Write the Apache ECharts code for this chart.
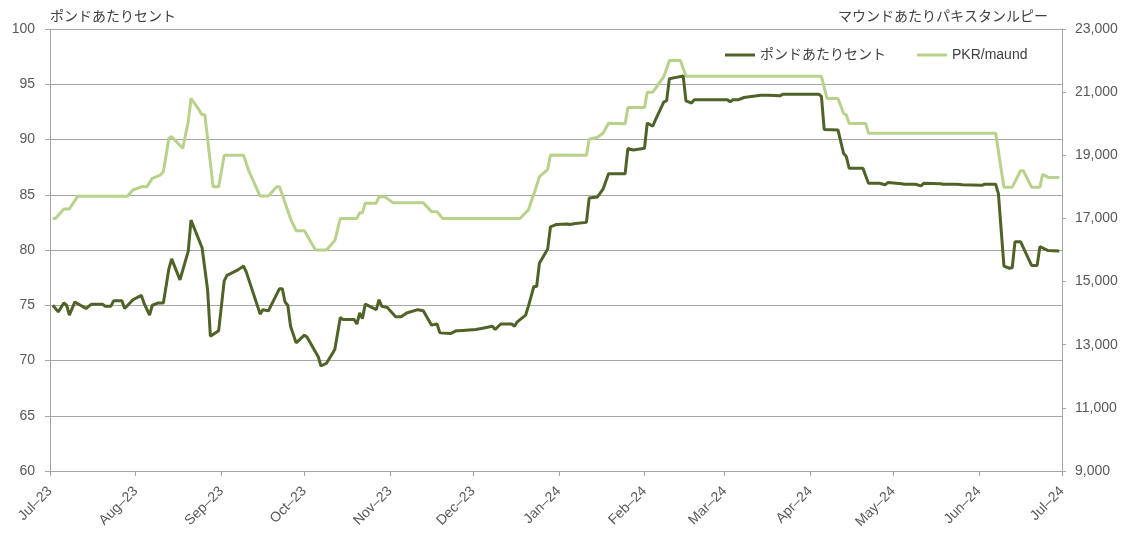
<!DOCTYPE html>
<html><head><meta charset="utf-8">
<script src="https://cdn.jsdelivr.net/npm/echarts@6/dist/echarts.min.js"></script>
<style>html,body{margin:0;padding:0;background:#fff}#c{width:1130px;height:533px}</style>
</head><body><div id="c"></div><script>
const seriesNames = ['ポンドあたりセント', 'PKR/maund'];
const axisNames = ['ポンドあたりセント', 'マウンドあたりパキスタンルピー'];

const centDates = ['2023-07-02','2023-07-04','2023-07-06','2023-07-07','2023-07-08','2023-07-10','2023-07-12','2023-07-14','2023-07-16','2023-07-20','2023-07-21','2023-07-23','2023-07-24','2023-07-27','2023-07-28','2023-07-31',
'2023-08-03','2023-08-04','2023-08-06','2023-08-07','2023-08-09','2023-08-11','2023-08-13','2023-08-14','2023-08-17','2023-08-20','2023-08-21','2023-08-25','2023-08-27','2023-08-28','2023-08-31',
'2023-09-02','2023-09-03','2023-09-05','2023-09-07','2023-09-09','2023-09-10','2023-09-15','2023-09-16','2023-09-18','2023-09-22','2023-09-23','2023-09-24','2023-09-25','2023-09-26','2023-09-28',
'2023-10-01','2023-10-02','2023-10-06','2023-10-07','2023-10-09','2023-10-12','2023-10-14','2023-10-15','2023-10-19','2023-10-20','2023-10-21','2023-10-22','2023-10-23','2023-10-27','2023-10-28','2023-10-29','2023-10-31',
'2023-11-03','2023-11-05','2023-11-07','2023-11-11','2023-11-13','2023-11-16','2023-11-18','2023-11-19','2023-11-23','2023-11-25','2023-11-26',
'2023-12-02','2023-12-04','2023-12-08','2023-12-09','2023-12-11','2023-12-15','2023-12-16','2023-12-17','2023-12-20','2023-12-21','2023-12-23','2023-12-24','2023-12-25','2023-12-28','2023-12-29','2023-12-31',
'2024-01-04','2024-01-05','2024-01-07','2024-01-11','2024-01-12','2024-01-15','2024-01-17','2024-01-19','2024-01-25','2024-01-26','2024-01-28',
'2024-02-01','2024-02-02','2024-02-04','2024-02-05','2024-02-08','2024-02-09','2024-02-10','2024-02-12','2024-02-15','2024-02-16','2024-02-18','2024-02-19',
'2024-03-02','2024-03-03','2024-03-04','2024-03-06','2024-03-08','2024-03-14','2024-03-17','2024-03-21','2024-03-22',
'2024-04-04','2024-04-05','2024-04-06','2024-04-11','2024-04-13','2024-04-14','2024-04-15','2024-04-20','2024-04-22','2024-04-26','2024-04-28','2024-04-29',
'2024-05-04','2024-05-05','2024-05-09','2024-05-11','2024-05-12','2024-05-18','2024-05-19','2024-05-24','2024-05-26',
'2024-06-02','2024-06-03','2024-06-07','2024-06-08','2024-06-10','2024-06-12','2024-06-13','2024-06-14','2024-06-16','2024-06-20','2024-06-22','2024-06-23','2024-06-26','2024-06-30'];
const centValues = [75.0,74.4,75.2,75.0,74.1,75.3,75.0,74.7,75.1,75.1,74.9,74.9,75.4,75.4,74.7,75.5,
75.9,75.2,74.1,75.0,75.2,75.2,78.3,79.2,77.3,79.9,82.7,80.2,76.4,72.2,72.7,
77.2,77.7,77.95,78.2,78.55,78.0,74.2,74.6,74.5,76.5,76.5,75.3,75.0,73.1,71.6,
72.3,72.1,70.35,69.5,69.75,71.0,73.9,73.7,73.7,73.3,74.3,73.8,75.1,74.6,75.5,74.9,74.8,
73.95,73.95,74.3,74.6,74.5,73.2,73.3,72.5,72.45,72.7,72.7,
72.8,72.9,73.1,72.8,73.3,73.3,73.1,73.5,74.1,74.9,76.7,76.7,78.8,80.1,82.1,82.3,
82.35,82.3,82.4,82.5,84.7,84.8,85.5,86.9,86.9,89.2,89.05,
89.2,91.5,91.2,91.8,93.4,93.5,95.5,95.6,95.75,93.5,93.3,93.6,
93.6,93.4,93.6,93.6,93.8,94.0,94.0,93.95,94.1,
94.1,93.9,90.9,90.85,88.75,88.45,87.4,87.4,86.04,86.04,85.9,86.1,
86.0,85.95,85.95,85.8,86.04,86.0,85.95,85.95,85.9,
85.85,85.95,85.95,85.1,78.55,78.35,78.4,80.75,80.75,78.6,78.6,80.3,79.95,79.9];

const pkrDates = ['2023-07-02','2023-07-03','2023-07-06','2023-07-08','2023-07-11','2023-07-29','2023-07-31',
'2023-08-03','2023-08-05','2023-08-07','2023-08-10','2023-08-11','2023-08-13','2023-08-14','2023-08-18','2023-08-20','2023-08-21','2023-08-24','2023-08-25','2023-08-26','2023-08-29','2023-08-31',
'2023-09-02','2023-09-09','2023-09-11','2023-09-15','2023-09-18','2023-09-21','2023-09-22','2023-09-24','2023-09-26','2023-09-28',
'2023-10-01','2023-10-05','2023-10-09','2023-10-12','2023-10-14','2023-10-20','2023-10-21','2023-10-22','2023-10-23','2023-10-27','2023-10-28','2023-10-30',
'2023-11-02','2023-11-13','2023-11-16','2023-11-18','2023-11-20',
'2023-12-18','2023-12-21','2023-12-23','2023-12-25','2023-12-28','2023-12-29',
'2024-01-11','2024-01-12','2024-01-15','2024-01-17','2024-01-19','2024-01-25','2024-01-26',
'2024-02-01','2024-02-02','2024-02-04','2024-02-08','2024-02-10','2024-02-14','2024-02-16',
'2024-04-05','2024-04-07','2024-04-11','2024-04-13','2024-04-14','2024-04-15','2024-04-21','2024-04-22',
'2024-06-07','2024-06-10','2024-06-13','2024-06-16','2024-06-17','2024-06-20','2024-06-23','2024-06-24','2024-06-26','2024-06-30'];
const pkrValues = [17000,17000,17300,17300,17700,17700,17900,
18000,18000,18270,18380,18480,19540,19590,19220,20065,20800,20430,20280,20280,18000,18000,
19000,19000,18480,17710,17710,18000,18000,17500,16990,16610,
16610,16000,16000,16300,17000,17000,17180,17180,17480,17480,17690,17690,
17500,17500,17215,17215,17000,
17000,17270,17770,18320,18555,19010,
19000,19507,19570,19700,20013,20000,20510,
20510,20995,21000,21490,22000,22000,21500,
21500,20800,20800,20330,20280,20010,20010,19700,
19700,17990,17990,18510,18510,17990,17990,18400,18300,18300];

const monthTicks = ['2023-07-01','2023-08-01','2023-09-01','2023-10-01','2023-11-01','2023-12-01','2024-01-01','2024-02-01','2024-03-01','2024-04-01','2024-05-01','2024-06-01','2024-07-01'];
const monthNames = ['Jan','Feb','Mar','Apr','May','Jun','Jul','Aug','Sep','Oct','Nov','Dec'];
const rightTicks = [9000,11000,13000,15000,17000,19000,21000,23000];

function ts(s){ const p = s.split('-').map(Number); return new Date(p[0], p[1]-1, p[2]).getTime(); }
const monthTs = monthTicks.map(ts);

const FONT = "'Liberation Sans','Noto Sans CJK JP',sans-serif";
const GRAY = '#A6A6A6';
const chart = echarts.init(document.getElementById('c'));
chart.setOption({
  animation: false,
  textStyle: { fontFamily: FONT },
  grid: { left: 50, right: 68, top: 29, bottom: 62, containLabel: false },
  legend: {
    data: seriesNames, left: 720, top: 43, icon: 'rect', itemWidth: 30, itemHeight: 3, itemGap: 31,
    textStyle: { fontSize: 14, color: '#404040', fontFamily: FONT }
  },
  xAxis: {
    type: 'value', min: monthTs[0], max: monthTs[monthTs.length-1],
    axisLine: { show: true, onZero: false, lineStyle: { color: GRAY, width: 1 } },
    axisTick: { show: true, length: 5, lineStyle: { color: GRAY }, customValues: monthTs },
    splitLine: { show: false },
    axisLabel: {
      customValues: monthTs, rotate: 45, margin: 18, fontSize: 14, color: '#595959', fontFamily: FONT,
      formatter: function (v) { const d = new Date(v); return monthNames[d.getMonth()] + '–' + String(d.getFullYear()).slice(2); }
    }
  },
  yAxis: [{
    type: 'value', min: 60, max: 100, interval: 5, position: 'left',
    name: axisNames[0], nameLocation: 'end', nameGap: 5,
    nameTextStyle: { align: 'left', fontSize: 14, color: '#404040', fontFamily: FONT },
    axisLine: { show: true, lineStyle: { color: GRAY } },
    axisTick: { show: true, length: 5, lineStyle: { color: GRAY } },
    splitLine: { show: true, lineStyle: { color: GRAY, width: 1 } },
    axisLabel: { margin: 15, fontSize: 14, color: '#595959', fontFamily: FONT }
  }, {
    type: 'value', min: 9000, max: 23000, position: 'right',
    name: axisNames[1], nameLocation: 'end', nameGap: 5,
    nameTextStyle: { align: 'right', fontSize: 14, color: '#404040', fontFamily: FONT, padding: [0, 14, 0, 0] },
    axisLine: { show: true, lineStyle: { color: GRAY } },
    axisTick: { show: true, length: 4, lineStyle: { color: GRAY }, customValues: rightTicks },
    splitLine: { show: false },
    axisLabel: { customValues: rightTicks, margin: 13, fontSize: 14, color: '#595959', fontFamily: FONT,
      formatter: function (v) { return Number(v).toLocaleString('en-US'); } }
  }],
  series: [{
    name: seriesNames[0], type: 'line', yAxisIndex: 0, symbol: 'none', z: 3,
    lineStyle: { color: '#4F6228', width: 3 }, itemStyle: { color: '#4F6228' },
    data: centDates.map((d, i) => [ts(d), centValues[i]])
  }, {
    name: seriesNames[1], type: 'line', yAxisIndex: 1, symbol: 'none', z: 2,
    lineStyle: { color: '#B8D28C', width: 3 }, itemStyle: { color: '#B8D28C' },
    data: pkrDates.map((d, i) => [ts(d), pkrValues[i]])
  }]
});
</script></body></html>
